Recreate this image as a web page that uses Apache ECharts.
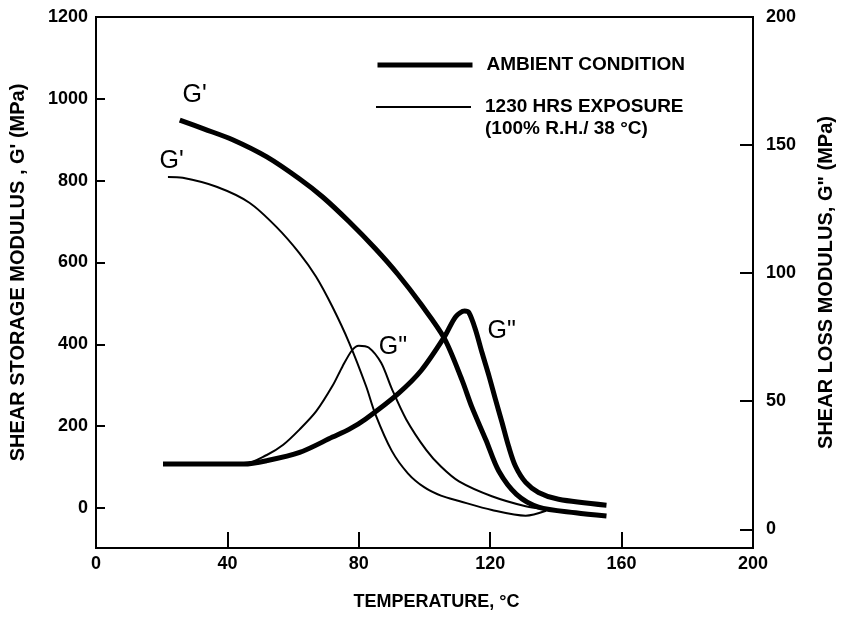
<!DOCTYPE html>
<html>
<head>
<meta charset="utf-8">
<script src="https://cdn.jsdelivr.net/npm/echarts@6/dist/echarts.min.js"></script>
<style>
  html, body { margin: 0; padding: 0; background: #fff; }
  #chart { width: 844px; height: 623px; }
</style>
</head>
<body>
<div id="chart"></div>
<script>
// temperature (°C) and modulus values
const ambStorageTemp = [25.5, 33, 41.6, 52, 62, 69, 77, 85, 92, 99, 106, 111.4, 114.4, 118.7, 122.6, 128, 134.7, 146, 155.4];
const ambStorage = [948, 926, 900, 858, 804, 760, 700, 634, 570, 497, 415, 313, 247, 166, 90, 33, 2, -12, -20];

const expStorageTemp = [21.9, 26.4, 36.7, 46.7, 54.9, 61.9, 67, 72, 77.1, 82.2, 85, 90, 95, 100, 105, 110.5, 120.5, 130.8, 137];
const expStorage = [809, 807, 785, 746, 687, 623, 565, 491, 403, 298, 230, 140, 84, 50, 30, 17, -5, -19, -7];

const ambLossTemp = [20.4, 30, 40, 45, 52, 62, 72, 77, 82, 92, 99, 106, 109.5, 112.2, 113.5, 115.5, 117.5, 119.6, 121.6, 123.6, 125.6, 127.7, 130.8, 134.7, 140.8, 155.4];
const ambLoss = [25.5, 25.5, 25.5, 25.5, 26.8, 30, 36, 39, 43, 53, 62, 75, 83, 85.2, 84.6, 78, 69, 60, 50.7, 41.7, 32.4, 24.6, 18.3, 14.4, 11.7, 9.4];

const expLossTemp = [20.4, 30, 40, 45, 52, 57, 62, 67, 72, 75, 78, 80, 83, 86.8, 90, 94.4, 100.5, 105, 110.5, 120.5, 130.8, 137];
const expLoss = [25.5, 25.5, 25.5, 25.5, 29, 33, 39, 46, 56, 63.5, 70, 71.7, 71, 65, 55, 43, 31, 24.5, 18.7, 12.9, 9, 7.8];

const tempTicks = [0, 40, 80, 120, 160, 200];
const storageTicks = [0, 200, 400, 600, 800, 1000, 1200];
const lossTicks = [0, 50, 100, 150, 200];

const FONT = '"Liberation Sans", Arial, Helvetica, sans-serif';

function pairs(xs, ys) {
  return xs.map((x, i) => [x, ys[i]]);
}

function tag(text, coord) {
  return {
    coord: coord,
    symbolSize: 0,
    label: { show: true, position: 'inside', formatter: text, fontSize: 25, color: '#000', fontFamily: FONT }
  };
}

const chart = echarts.init(document.getElementById('chart'));

const labelStyle = { color: '#000', fontSize: 18, fontWeight: 'bold', fontFamily: FONT };
const titleStyle = { color: '#000', fontSize: 20, fontWeight: 'bold', fontFamily: FONT };
const legendText = { color: '#000', fontSize: 19, fontWeight: 'bold', fontFamily: FONT, lineHeight: 22, padding: [0, 0, 0, 9] };

chart.setOption({
  animation: false,
  backgroundColor: '#fff',
  textStyle: { fontFamily: FONT, color: '#000' },
  grid: { left: 96, right: 89, top: 17, bottom: 75, show: true, borderColor: '#000', borderWidth: 2 },
  legend: [
    {
      data: ['AMBIENT CONDITION'],
      left: 375, top: 54, padding: 0,
      itemWidth: 95, itemHeight: 14,
      selectedMode: false,
      itemStyle: { opacity: 0, borderWidth: 0 },
      lineStyle: { width: 5, color: '#000' },
      textStyle: legendText
    },
    {
      data: ['1230 HRS EXPOSURE'],
      left: 375, top: 74, padding: 0,
      itemWidth: 95, itemHeight: 14,
      selectedMode: false,
      itemStyle: { opacity: 0, borderWidth: 0 },
      lineStyle: { width: 2, color: '#000' },
      formatter: () => '\n1230 HRS EXPOSURE\n(100% R.H./ 38 °C)',
      textStyle: legendText
    }
  ],
  xAxis: {
    type: 'value', min: 0, max: 200, interval: 40,
    axisLine: { onZero: false, lineStyle: { color: '#000', width: 2 } },
    axisTick: { inside: true, length: 16, lineStyle: { color: '#000', width: 2 } },
    axisLabel: Object.assign({ margin: 7 }, labelStyle),
    splitLine: { show: false },
    name: 'TEMPERATURE, °C',
    nameLocation: 'middle', nameGap: 45,
    nameTextStyle: Object.assign({ padding: [0, 0, 0, 24] }, labelStyle)
  },
  yAxis: [
    {
      type: 'value', min: -98, max: 1200,
      axisLine: { show: true, onZero: false, lineStyle: { color: '#000', width: 2 } },
      axisTick: { show: true, inside: true, length: 9, customValues: storageTicks, lineStyle: { color: '#000', width: 2 } },
      axisLabel: Object.assign({ margin: 8, customValues: storageTicks, formatter: v => String(v) }, labelStyle),
      splitLine: { show: false },
      name: "SHEAR STORAGE MODULUS , G' (MPa)",
      nameLocation: 'middle', nameRotate: 90, nameGap: 68,
      nameTextStyle: Object.assign({ padding: [0, 0, 0, 20] }, titleStyle)
    },
    {
      type: 'value', position: 'right', min: -7.3, max: 200,
      axisLine: { show: true, onZero: false, lineStyle: { color: '#000', width: 2 } },
      axisTick: { show: true, inside: true, length: 13, customValues: lossTicks, lineStyle: { color: '#000', width: 2 } },
      axisLabel: Object.assign({ margin: 13, customValues: lossTicks, formatter: v => String(v) }, labelStyle),
      splitLine: { show: false },
      name: 'SHEAR LOSS MODULUS, G" (MPa)',
      nameLocation: 'middle', nameRotate: 90, nameGap: 63,
      nameTextStyle: titleStyle
    }
  ],
  series: [
    {
      name: 'AMBIENT CONDITION', type: 'line', yAxisIndex: 0,
      data: pairs(ambStorageTemp, ambStorage),
      smooth: 0.3, symbol: 'none', silent: true,
      lineStyle: { color: '#000', width: 5 }, itemStyle: { color: '#000' },
      markPoint: { symbol: 'circle', silent: true, data: [tag("G'", [30, 1010])] }
    },
    {
      name: '1230 HRS EXPOSURE', type: 'line', yAxisIndex: 0,
      data: pairs(expStorageTemp, expStorage),
      smooth: 0.3, symbol: 'none', silent: true,
      lineStyle: { color: '#000', width: 2 }, itemStyle: { color: '#000' },
      markPoint: { symbol: 'circle', silent: true, data: [tag("G'", [23, 848])] }
    },
    {
      name: 'AMBIENT CONDITION', type: 'line', yAxisIndex: 1,
      data: pairs(ambLossTemp, ambLoss),
      smooth: 0.3, symbol: 'none', silent: true,
      lineStyle: { color: '#000', width: 5 }, itemStyle: { color: '#000' },
      markPoint: { symbol: 'circle', silent: true, data: [tag('G"', [123.5, 77.2])] }
    },
    {
      name: '1230 HRS EXPOSURE', type: 'line', yAxisIndex: 1,
      data: pairs(expLossTemp, expLoss),
      smooth: 0.3, symbol: 'none', silent: true,
      lineStyle: { color: '#000', width: 2 }, itemStyle: { color: '#000' },
      markPoint: { symbol: 'circle', silent: true, data: [tag('G"', [90.4, 71.3])] }
    }
  ]
});
</script>
</body>
</html>
